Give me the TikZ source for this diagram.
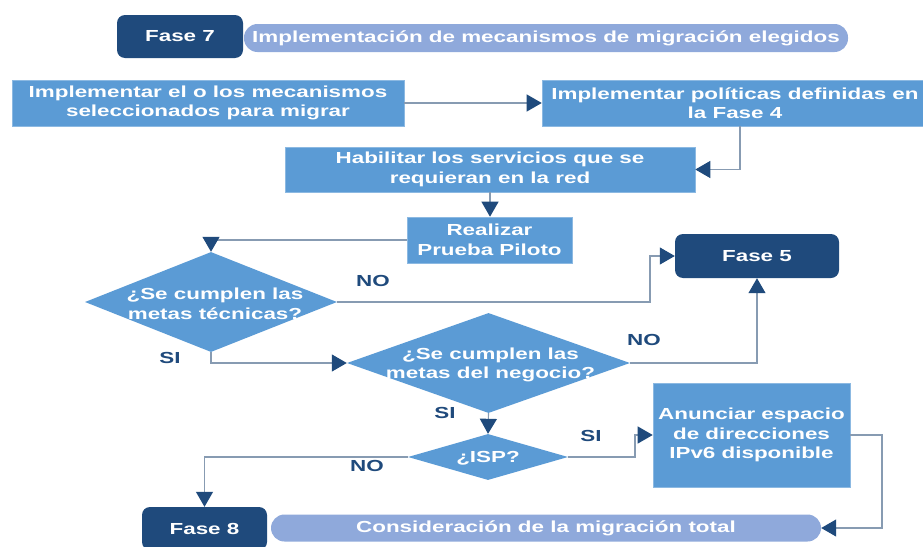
\documentclass[tikz,border=0pt]{standalone}
\usepackage{fontspec}
\setmainfont{Liberation Sans}[FakeStretch=1.4]
\usetikzlibrary{shapes.geometric,arrows.meta}
\definecolor{navy}{RGB}{31,74,124}
\definecolor{boxblue}{RGB}{91,155,213}
\definecolor{bannerblue}{RGB}{143,169,219}
\definecolor{linegray}{RGB}{135,155,178}
\begin{document}
\begin{tikzpicture}[x=1pt,y=-1pt,
  txt/.style={font=\bfseries\fontsize{16}{19.5}\selectfont, text=white, align=center},
  phase/.style={txt, fill=navy, rounded corners=8pt, inner sep=0pt},
  banner/.style={txt, fill=bannerblue, rounded corners=13.5pt, inner sep=0pt},
  stepbox/.style={txt, fill=boxblue, draw=boxblue!70!white, line width=0.6pt, inner sep=0pt},
  decision/.style={diamond, fill=boxblue, inner sep=0pt},
  ans/.style={font=\bfseries\fontsize{16}{19.5}\selectfont, text=navy},
  conn/.style={draw=linegray, line width=1.1pt},
  arr/.style={conn, -{Triangle[length=15pt,width=17pt,color=navy]}}
]
\useasboundingbox (0,0) rectangle (923,546);
\fill[white] (0,0) rectangle (923,546);

% Fase 7 header
\node[banner, minimum width=604pt, minimum height=28pt] (b7) at (546,38) {Implementación de mecanismos de migración elegidos};
\node[phase, minimum width=126pt, minimum height=43pt] (f7) at (180,36.5) {Fase 7};

% process boxes
\node[stepbox, minimum width=392pt, minimum height=46pt] (box1) at (208,103) {Implementar el o los mecanismos\\seleccionados para migrar};
\node[stepbox, minimum width=386pt, minimum height=46pt] (box2) at (735,103) {Implementar políticas definidas en\\la Fase 4};
\node[stepbox, minimum width=410pt, minimum height=45pt] (box3) at (490,169.5) {Habilitar los servicios que se\\requieran en la red};
\node[stepbox, minimum width=165pt, minimum height=46pt] (box4) at (489.5,240) {Realizar\\Prueba Piloto};

% decisions
\node[decision, minimum width=252pt, minimum height=100pt,
  label={[txt, xshift=4pt, yshift=-2pt]center:{¿Se cumplen las\\metas técnicas?}}] (d1) at (211,302) {};
\node[decision, minimum width=283pt, minimum height=100pt,
  label={[txt, xshift=2pt, yshift=-2pt]center:{¿Se cumplen las\\metas del negocio?}}] (d2) at (488.5,363) {};
\node[decision, minimum width=160pt, minimum height=46pt,
  label={[txt, yshift=-1pt]center:{¿ISP?}}] (d3) at (488,457) {};

% Fase 5
\node[phase, minimum width=164pt, minimum height=44pt] (f5) at (757,256) {Fase 5};

% Anunciar
\node[stepbox, minimum width=197pt, minimum height=104pt] (anun) at (751.5,435) {Anunciar espacio\\de direcciones\\IPv6 disponible};

% Fase 8 footer
\node[banner, minimum width=550pt, minimum height=27pt] (b8) at (546,528) {Consideración de la migración total};
\node[phase, minimum width=125pt, minimum height=43pt] (f8) at (204.5,528.5) {Fase 8};

% connectors
\coordinate (c2) at ([xshift=5pt]box2.south);
\coordinate (c5) at (650,302);
\coordinate (c9) at (635,457);
\coordinate (c11) at (882,435);

\draw[arr] (box1.east) -- (box2.west);
\draw[arr] (c2) |- (box3.east);
\draw[arr] (box3.south) -- (box3.south |- box4.north);
\draw[arr] (box4.west) -| (d1.north);
\draw[arr] (d1.east) -- (c5) |- (f5.west);
\draw[arr] (d1.south) |- (d2.west);
\draw[arr] (d2.east) -| (f5.south);
\draw[arr] (d2.south) -- (d3.north);
\draw[arr] (d3.east) -- (c9) |- (anun.west);
\draw[arr] (d3.west) -| (f8.north);
\draw[arr] (anun.east) -- (c11) |- (b8.east);

% answer labels
\node[ans] (l1) at (373,281) {NO};
\node[ans] (l2) at (170,358) {SI};
\node[ans] (l3) at (644,340) {NO};
\node[ans] (l4) at (445,413) {SI};
\node[ans] (l5) at (591,436) {SI};
\node[ans] (l6) at (367,466) {NO};
\end{tikzpicture}
\end{document}
